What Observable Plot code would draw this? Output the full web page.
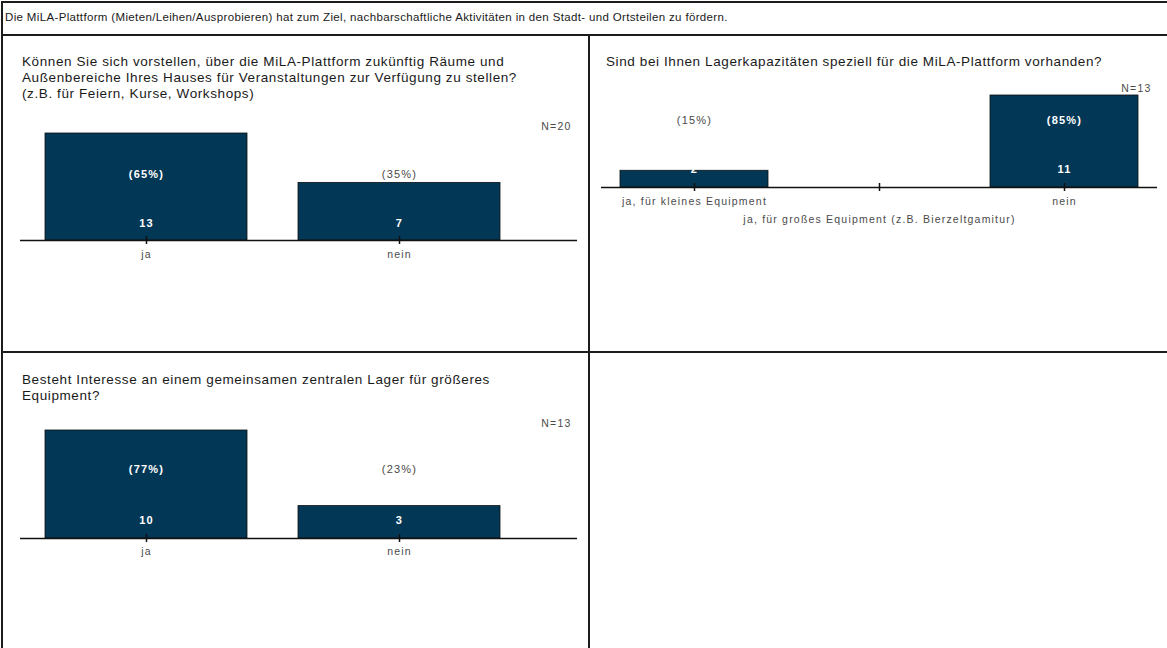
<!DOCTYPE html>
<html>
<head>
<meta charset="utf-8">
<script src="https://cdn.jsdelivr.net/npm/d3@7"></script>
<script src="https://cdn.jsdelivr.net/npm/@observablehq/plot@0.6"></script>
<style>
  html, body { margin: 0; padding: 0; background: #fff; }
  #page { position: relative; width: 1167px; height: 648px; overflow: hidden; font-family: "Liberation Sans", Arial, sans-serif; color: #1a1a1a; }
  .hl { position: absolute; height: 2px; background: #1c1c1c; }
  .vl { position: absolute; width: 2px; background: #1c1c1c; }
  .txt { position: absolute; white-space: nowrap; }
  .title { font-size: 13.5px; line-height: 16px; letter-spacing: 0.6px; }
  .chart { position: absolute; font-family: "Liberation Sans", Arial, sans-serif !important; }
  .chart text { letter-spacing: 1.2px; }
</style>
</head>
<body>
<div id="page"></div>
<script>
// ---------- data ----------
const headerText = "Die MiLA-Plattform (Mieten/Leihen/Ausprobieren) hat zum Ziel, nachbarschaftliche Aktivitäten in den Stadt- und Ortsteilen zu fördern.";

const q1Title = ["Können Sie sich vorstellen, über die MiLA-Plattform zukünftig Räume und",
                 "Außenbereiche Ihres Hauses für Veranstaltungen zur Verfügung zu stellen?",
                 "(z.B. für Feiern, Kurse, Workshops)"];
const q1Categories = ["ja", "nein"];
const q1Values = [13, 7];
const q1N = 20;

const q2Title = ["Sind bei Ihnen Lagerkapazitäten speziell für die MiLA-Plattform vorhanden?"];
const q2Categories = ["ja, für kleines Equipment", "ja, für großes Equipment (z.B. Bierzeltgamitur)", "nein"];
const q2Values = [2, 0, 11];
const q2N = 13;

const q3Title = ["Besteht Interesse an einem gemeinsamen zentralen Lager für größeres",
                 "Equipment?"];
const q3Categories = ["ja", "nein"];
const q3Values = [10, 3];
const q3N = 13;

// ---------- layout ----------
const page = document.getElementById("page");
function line(cls, css) {
  const d = document.createElement("div");
  d.className = cls;
  Object.assign(d.style, css);
  page.appendChild(d);
}
line("hl", {left: "1px", top: "1px", width: "1166px"});
line("hl", {left: "1px", top: "34px", width: "1166px"});
line("hl", {left: "1px", top: "351px", width: "1166px"});
line("vl", {left: "1px", top: "1px", height: "647px"});
line("vl", {left: "588px", top: "34px", height: "614px"});

function text(html, cls, css) {
  const d = document.createElement("div");
  d.className = "txt " + cls;
  d.innerHTML = html;
  Object.assign(d.style, css);
  page.appendChild(d);
}
text(headerText, "", {left: "5px", top: "10px", fontSize: "11.5px", lineHeight: "14px", letterSpacing: "0.35px"});
text(q1Title.join("<br>"), "title", {left: "22px", top: "54px"});
text(q2Title.join("<br>"), "title", {left: "606px", top: "54px"});
text(q3Title.join("<br>"), "title", {left: "22px", top: "372px"});

const barColor = "#033756";
const labelGray = "#4a4a4a";

function panel({cats, vals, n, left, top, width, mt, plotH, mb, ml, mr, insetRight, pctDy, countDy, labelDy, label2Dy, nDx, stagger}) {
  const data = cats.map((c, i) => ({cat: c, idx: i, value: vals[i], pct: Math.round(vals[i] / n * 100)}));
  const maxV = d3.max(vals);
  const inside = d => d.value / maxV * plotH > pctDy + 6;
  const shown = data.filter(d => d.value > 0);
  const chart = Plot.plot({
    width, height: mt + plotH + mb,
    marginTop: mt, marginBottom: mb, marginLeft: ml, marginRight: mr,
    style: {fontFamily: '"Liberation Sans", Arial, sans-serif', background: "transparent", overflow: "visible"},
    x: {domain: cats, paddingInner: 0.2, paddingOuter: 0.1, insetRight, label: null},
    y: {domain: [0, maxV], axis: null},
    marks: [
      Plot.barY(data, {x: "cat", y: "value", fill: barColor, stroke: "#111", strokeWidth: 0.8}),
      Plot.ruleY([0], {stroke: "#111", strokeWidth: 1.5}),
      Plot.axisX({tickSize: 8, dy: -4, tickFormat: () => "", label: null, stroke: "#111", strokeWidth: 1.5}),
      Plot.text(cats.filter((c, i) => !stagger || i % 2 === 0), {x: d => d, frameAnchor: "bottom", dy: labelDy, text: d => d, fill: labelGray, fontSize: 10.5}),
      Plot.text(cats.filter((c, i) => stagger && i % 2 === 1), {x: d => d, frameAnchor: "bottom", dy: label2Dy, text: d => d, fill: labelGray, fontSize: 10.5}),
      Plot.text(shown.filter(inside), {x: "cat", frameAnchor: "bottom", dy: -pctDy, text: d => `(${d.pct}%)`, fill: "white", fontWeight: "bold", fontSize: 11}),
      Plot.text(shown.filter(d => !inside(d)), {x: "cat", frameAnchor: "bottom", dy: -pctDy, text: d => `(${d.pct}%)`, fill: labelGray, fontSize: 11}),
      Plot.text(shown, {x: "cat", frameAnchor: "bottom", dy: -countDy, text: d => String(d.value), fill: "white", fontWeight: "bold", fontSize: 11}),
      Plot.text([`N=${n}`], {frameAnchor: "top-right", dx: nDx, dy: -11, textAnchor: "end", fill: labelGray, fontSize: 10.5})
    ]
  });
  chart.classList.add("chart");
  chart.style.left = left + "px";
  chart.style.top = top + "px";
  page.appendChild(chart);
}

panel({cats: q1Categories, vals: q1Values, n: q1N, left: 0, top: 100, width: 589,
       mt: 33, plotH: 107, mb: 45, ml: 20, mr: 12, insetRight: 51,
       pctDy: 63, countDy: 14, labelDy: 17, label2Dy: 0, nDx: -6, stagger: false});
panel({cats: q2Categories, vals: q2Values, n: q2N, left: 589, top: 60, width: 578,
       mt: 35, plotH: 92, mb: 50, ml: 12, mr: 10, insetRight: 0,
       pctDy: 64, countDy: 15, labelDy: 17, label2Dy: 35, nDx: -6, stagger: true});
panel({cats: q3Categories, vals: q3Values, n: q3N, left: 0, top: 400, width: 589,
       mt: 30, plotH: 108, mb: 45, ml: 20, mr: 12, insetRight: 51,
       pctDy: 66, countDy: 15, labelDy: 16, label2Dy: 0, nDx: -6, stagger: false});
</script>
</body>
</html>
